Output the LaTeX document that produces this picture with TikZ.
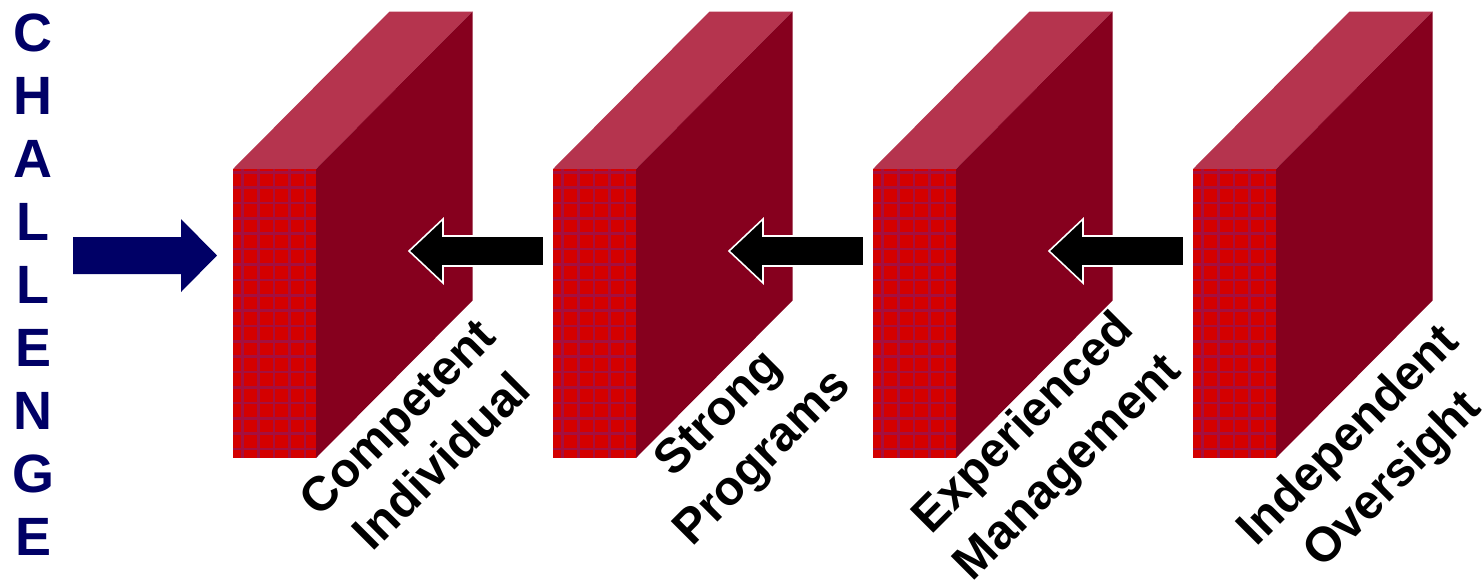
\documentclass[tikz,border=0pt]{standalone}
\usepackage{fontspec}
\setmainfont{Liberation Sans}
\definecolor{frontred}{RGB}{212,0,0}
\definecolor{topred}{RGB}{181,52,78}
\definecolor{sidered}{RGB}{134,0,30}
\definecolor{gridred}{RGB}{165,15,62}
\definecolor{navyblue}{RGB}{0,0,102}
\tikzset{
  front/.style={fill=frontred},
  topface/.style={fill=topred},
  sideface/.style={fill=sidered},
  gridline/.style={draw=gridred, line width=1.5pt},
  pusharrow/.style={fill=black, draw=white, line width=0.9pt},
  challarrow/.style={fill=navyblue},
  layerlabel/.style={font=\fontsize{27.6}{35.3}\selectfont\bfseries, align=center, rotate=45, inner sep=0pt},
  challtext/.style={font=\fontsize{30.7}{35.9}\selectfont\bfseries, text=navyblue, align=center, inner sep=0pt}
}
\begin{document}
\begin{tikzpicture}[x=0.02cm, y=-0.02cm]
  \useasboundingbox (0,0) rectangle (1482,586);

  \node[challtext] (challenge) at (33,284.5) {C\\H\\A\\L\\L\\E\\N\\G\\E};
  \fill[challarrow] (73,237) -- (181,237) -- (181,219) -- (217,255.5) -- (181,292) -- (181,274) -- (73,274) -- cycle;

  % first wall
  \fill[topface] (233,169) -- (389.5,11.5) -- (472.5,11.5) -- (316,169) -- cycle;
  \fill[sideface] (316,169) -- (472.5,11.5) -- (472.5,300.5) -- (316,458) -- cycle;
  \begin{scope}[shift={(233,169)}]
    \fill[front] (0,0) rectangle (83,289);
    \foreach \gx in {9.7,25.3,40.9,56.5,72.1} \draw[gridline] (\gx,0) -- (\gx,289);
    \foreach \k in {0,...,18} \draw[gridline] (0,3.3+\k*15.37) -- (83,3.3+\k*15.37);
  \end{scope}
  \node[layerlabel] (competent) at (419,439) {Competent\\Individual};

  % second wall
  \fill[topface] (553,169) -- (709.5,11.5) -- (792.5,11.5) -- (636,169) -- cycle;
  \fill[sideface] (636,169) -- (792.5,11.5) -- (792.5,300.5) -- (636,458) -- cycle;
  \begin{scope}[shift={(553,169)}]
    \fill[front] (0,0) rectangle (83,289);
    \foreach \gx in {9.7,25.3,40.9,56.5,72.1} \draw[gridline] (\gx,0) -- (\gx,289);
    \foreach \k in {0,...,18} \draw[gridline] (0,3.3+\k*15.37) -- (83,3.3+\k*15.37);
  \end{scope}
  \node[layerlabel] (programs) at (742,437) {Strong\\Programs};

  % third wall
  \fill[topface] (873,169) -- (1029.5,11.5) -- (1112.5,11.5) -- (956,169) -- cycle;
  \fill[sideface] (956,169) -- (1112.5,11.5) -- (1112.5,300.5) -- (956,458) -- cycle;
  \begin{scope}[shift={(873,169)}]
    \fill[front] (0,0) rectangle (83,289);
    \foreach \gx in {9.7,25.3,40.9,56.5,72.1} \draw[gridline] (\gx,0) -- (\gx,289);
    \foreach \k in {0,...,18} \draw[gridline] (0,3.3+\k*15.37) -- (83,3.3+\k*15.37);
  \end{scope}
  \node[layerlabel] (management) at (1047,447) {Experienced\\Management};

  % fourth wall
  \fill[topface] (1193,169) -- (1349.5,11.5) -- (1432.5,11.5) -- (1276,169) -- cycle;
  \fill[sideface] (1276,169) -- (1432.5,11.5) -- (1432.5,300.5) -- (1276,458) -- cycle;
  \begin{scope}[shift={(1193,169)}]
    \fill[front] (0,0) rectangle (83,289);
    \foreach \gx in {9.7,25.3,40.9,56.5,72.1} \draw[gridline] (\gx,0) -- (\gx,289);
    \foreach \k in {0,...,18} \draw[gridline] (0,3.3+\k*15.37) -- (83,3.3+\k*15.37);
  \end{scope}
  \node[layerlabel] (oversight) at (1372,459) {Independent\\Oversight};

  % backing arrows
  \filldraw[pusharrow] (544,236) -- (443,236) -- (443,219) -- (409,251) -- (443,283) -- (443,266) -- (544,266) -- cycle;
  \filldraw[pusharrow] (864,236) -- (763,236) -- (763,219) -- (729,251) -- (763,283) -- (763,266) -- (864,266) -- cycle;
  \filldraw[pusharrow] (1184,236) -- (1083,236) -- (1083,219) -- (1049,251) -- (1083,283) -- (1083,266) -- (1184,266) -- cycle;
\end{tikzpicture}
\end{document}
